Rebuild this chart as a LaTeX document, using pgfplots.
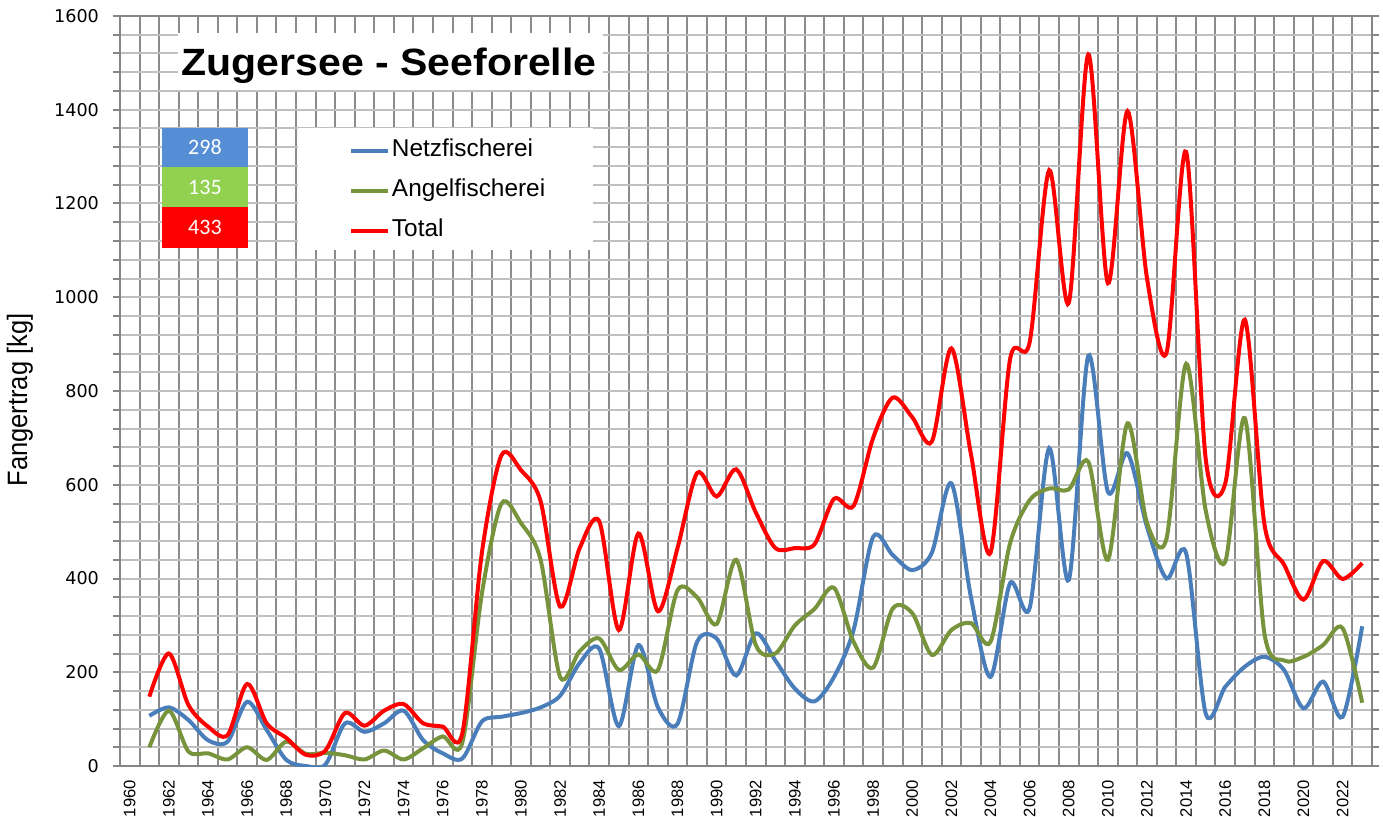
\documentclass[border=0pt]{standalone}
\usepackage{fontspec}
\setmainfont{Liberation Sans}
\newfontfamily\dejavu{DejaVu Sans}
\newfontfamily\carlito{Carlito}
\usepackage{pgfplots}
\usepackage{pgfplotstable}
\pgfplotsset{compat=1.18}

\definecolor{netz}{HTML}{4A7EBB}
\definecolor{angel}{HTML}{77933C}
\definecolor{total}{HTML}{FF0000}
\definecolor{boxblue}{HTML}{558ED5}
\definecolor{boxgreen}{HTML}{92D050}
\definecolor{gridv}{HTML}{8C8C8C}
\definecolor{gridh}{HTML}{C0C0C0}
\definecolor{axisgray}{HTML}{868686}

% Fangertrag Seeforelle Zugersee [kg]
\pgfplotstableread{
year netz angel total
1961 107 40 148
1962 125 118 240
1963 98 31 130
1964 55 27 84
1965 52 14 66
1966 137 40 175
1967 77 13 91
1968 13 52 60
1969 0 26 24
1970 3 28 33
1971 91 23 113
1972 73 14 86
1973 91 33 118
1974 118 14 132
1975 55 38 91
1976 27 63 84
1977 16 50 70
1978 95 368 455
1979 105 560 663
1980 113 518 631
1981 125 440 565
1982 150 190 340
1983 220 245 465
1984 250 272 522
1985 85 205 290
1986 258 238 496
1987 125 205 330
1988 90 375 465
1989 265 360 625
1990 272 303 575
1991 193 440 633
1992 283 258 541
1993 225 240 465
1994 165 300 465
1995 138 335 473
1996 190 380 570
1997 290 265 555
1998 489 210 700
1999 450 336 786
2000 418 326 744
2001 455 237 692
2002 603 290 891
2003 360 305 665
2004 190 265 455
2005 390 475 868
2006 337 567 904
2007 678 592 1271
2008 397 590 988
2009 875 649 1518
2010 585 440 1030
2011 667 731 1397
2012 510 518 1040
2013 400 486 882
2014 454 858 1310
2015 112 545 655
2016 169 436 603
2017 212 742 952
2018 233 283 516
2019 205 225 430
2020 123 233 355
2021 180 258 437
2022 105 294 399
2023 298 135 433
}\fangdata

\begin{document}
\begin{tikzpicture}
\useasboundingbox (-60pt,-25pt) rectangle (631.5pt,383pt);
\begin{axis}[
    at={(0,0)}, anchor=south west,
    scale only axis,
    width=626pt, height=375pt,
    xmin=1959.5, xmax=2023.5,
    ymin=0, ymax=1600,
    xtick={1960,1962,...,2022},
    minor xtick={1959.5,1960.5,...,2023.5},
    ytick={0,200,...,1600},
    minor ytick={40,80,...,1560},
    xmajorgrids=false, xminorgrids=true,
    ymajorgrids=true, yminorgrids=true,
    x grid style={color=gridv, line width=1pt},
    y grid style={color=gridh, line width=1pt},
    axis line style={color=axisgray, line width=1pt},
    tick align=outside,
    major tick length=3.5pt, minor tick length=3.5pt,
    x tick style={draw=none},
    y tick style={color=axisgray, line width=1pt},
    /pgf/number format/1000 sep={},
    /pgf/number format/assume math mode=true,
    xticklabel style={rotate=90, anchor=east, font=\fontsize{8.3}{9}\selectfont},
    yticklabel style={font=\dejavu\fontsize{8.8}{10}\selectfont, xshift=-3.5pt},
    ylabel={\scalebox{0.91}[1]{Fangertrag [kg]}},
    ylabel style={at={(axis description cs:-0.0799,0.488)}, anchor=center,
        font=\fontsize{14}{16}\selectfont},
    legend style={at={(0.1829,0.8364)}, anchor=north west,
        draw=none, fill=none, inner sep=0pt, outer sep=0pt,
        row sep=8pt, column sep=1pt,
        nodes={inner sep=0pt, text height=9pt, text depth=3pt},
        font=\fontsize{12.2}{14}\selectfont},
    legend cell align=left,
    legend image code/.code={\draw[#1] (0pt,0pt) -- (18.5pt,0pt);},
    every axis plot/.append style={line width=2pt, smooth, tension=0.5},
]
% white panels over the grid
\fill[white] (axis description cs:0.0463,0.9013) rectangle (axis description cs:0.3858,0.9773);
\fill[white] (axis description cs:0.1422,0.6880) rectangle (axis description cs:0.3778,0.8507);
\node[anchor=base, inner sep=0pt] at (axis description cs:0.2149,0.92)
    {\scalebox{1.08}[1]{\bfseries\fontsize{19}{22}\selectfont Zugersee - Seeforelle}};
% latest values
\fill[boxblue] (axis description cs:0.0335,0.7987) rectangle (axis description cs:0.1022,0.8507);
\fill[boxgreen] (axis description cs:0.0335,0.7453) rectangle (axis description cs:0.1022,0.7987);
\fill[total] (axis description cs:0.0335,0.6907) rectangle (axis description cs:0.1022,0.7453);
\node[white, font=\carlito\fontsize{11}{13}\selectfont] at (axis description cs:0.06785,0.8247) {298};
\node[white, font=\carlito\fontsize{11}{13}\selectfont] at (axis description cs:0.06785,0.7720) {135};
\node[white, font=\carlito\fontsize{11}{13}\selectfont] at (axis description cs:0.06785,0.7180) {433};

\addplot[color=netz] table[x=year, y=netz] {\fangdata};
\addlegendentry{Netzfischerei}
\addplot[color=angel] table[x=year, y=angel] {\fangdata};
\addlegendentry{Angelfischerei}
\addplot[color=total] table[x=year, y=total] {\fangdata};
\addlegendentry{Total}
\end{axis}
\end{tikzpicture}
\end{document}
